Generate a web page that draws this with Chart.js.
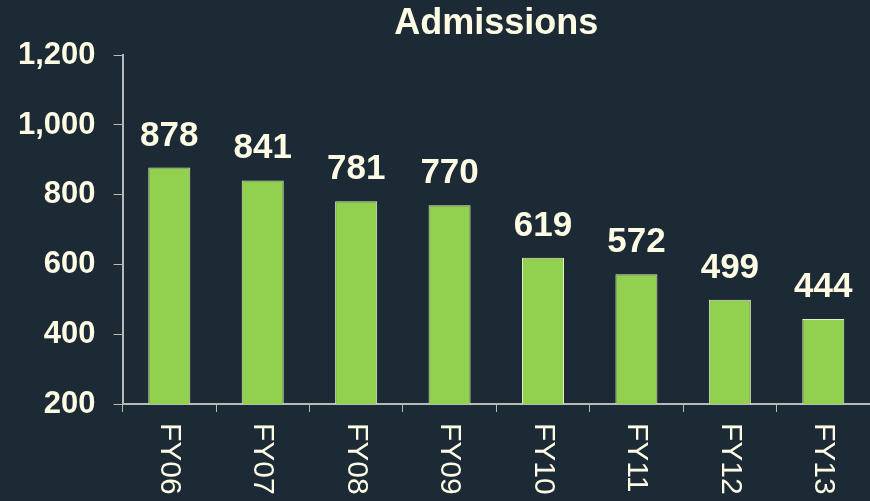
<!DOCTYPE html>
<html>
<head>
<meta charset="utf-8">
<script src="https://cdn.jsdelivr.net/npm/chart.js@4/dist/chart.umd.min.js"></script>
<style>
  html, body { margin: 0; padding: 0; background: #1c2a36; }
  #wrap { width: 870px; height: 501px; }
</style>
</head>
<body>
<div id="wrap"><canvas id="chart"></canvas></div>
<script>
const categories = ['FY06', 'FY07', 'FY08', 'FY09', 'FY10', 'FY11', 'FY12', 'FY13'];
const admissions = [878, 841, 781, 770, 619, 572, 499, 444];
const yMin = 200;
const yMax = 1200;
const yStep = 200;

const textColor = '#fdfbe4';
const axisColor = '#b8bab6';

// value labels over bars + vertical category labels reading top to bottom
const labelPlugin = {
    id: 'labels',
    afterDatasetsDraw(chart) {
        const ctx = chart.ctx;
        const meta = chart.getDatasetMeta(0);
        ctx.save();
        ctx.fillStyle = textColor;
        ctx.font = 'bold 35px "Liberation Sans", Arial, sans-serif';
        ctx.textAlign = 'center';
        ctx.textBaseline = 'alphabetic';
        meta.data.forEach((bar, i) => {
            ctx.fillText(admissions[i], bar.x, bar.y - 22);
        });

        const xScale = chart.scales.x;
        ctx.font = '30px "Liberation Sans", Arial, sans-serif';
        ctx.textAlign = 'left';
        ctx.textBaseline = 'middle';
        categories.forEach((cat, i) => {
            const x = xScale.getPixelForTick(i);
            ctx.save();
            ctx.translate(x, xScale.bottom + 11);
            ctx.rotate(Math.PI / 2);
            ctx.fillText(cat, 0, 0);
            ctx.restore();
        });
        ctx.restore();
    }
};

new Chart(document.getElementById('chart'), {
    type: 'bar',
    data: {
        labels: categories,
        datasets: [{
            label: 'Admissions',
            data: admissions,
            backgroundColor: '#92d050',
            borderColor: '#e4edc8',
            borderWidth: 1,
            barPercentage: 0.45,
            categoryPercentage: 1
        }]
    },
    options: {
        responsive: true,
        maintainAspectRatio: false,
        animation: false,
        layout: {
            padding: { left: 0, right: 0, top: 0, bottom: 89 }
        },
        plugins: {
            legend: { display: false },
            tooltip: { enabled: false },
            title: {
                display: true,
                text: 'Admissions',
                color: textColor,
                fullSize: false,
                font: { family: '"Liberation Sans", Arial, sans-serif', size: 36, weight: 'bold' },
                padding: { top: 2, bottom: 10 }
            }
        },
        scales: {
            x: {
                grid: {
                    display: true,
                    drawOnChartArea: false,
                    drawTicks: true,
                    tickLength: 8,
                    color: axisColor,
                    offset: true
                },
                border: { color: axisColor, width: 2 },
                ticks: { display: false }
            },
            y: {
                min: yMin,
                max: yMax,
                grid: {
                    display: true,
                    drawOnChartArea: false,
                    drawTicks: true,
                    tickLength: 9,
                    color: axisColor
                },
                border: { color: axisColor, width: 2 },
                ticks: {
                    stepSize: yStep,
                    color: textColor,
                    padding: 18,
                    font: { family: '"Liberation Sans", Arial, sans-serif', size: 31, weight: 'bold' }
                }
            }
        }
    },
    plugins: [labelPlugin]
});
</script>
</body>
</html>
